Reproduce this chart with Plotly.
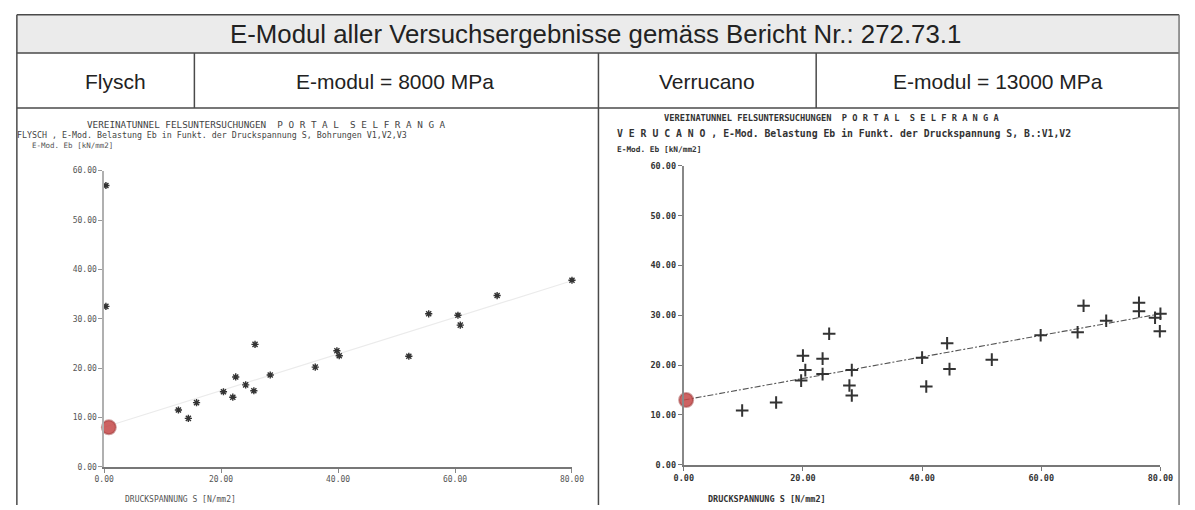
import plotly.graph_objects as go

W, H = 1195, 510

# ---- data ----
flysch_s = [0.3, 0.3, 12.7, 14.4, 15.8, 20.4, 22.0, 22.5, 24.2, 25.6, 25.8, 28.4, 36.1,
            39.8, 40.2, 52.1, 55.5, 60.5, 60.9, 67.2, 80.0]
flysch_e = [57.0, 32.5, 11.5, 9.8, 13.0, 15.2, 14.1, 18.2, 16.6, 15.4, 24.8, 18.6, 20.2,
            23.5, 22.5, 22.4, 31.0, 30.7, 28.7, 34.7, 37.8]

verrucano_s = [9.8, 15.5, 20.0, 20.4, 19.7, 23.3, 23.3, 24.4, 27.8, 28.2, 28.2, 40.0, 40.7,
               44.2, 44.6, 51.7, 59.9, 66.1, 67.1, 70.9, 76.4, 76.4, 79.1, 80.0, 79.9]
verrucano_e = [10.9, 12.5, 21.9, 19.0, 16.9, 21.3, 18.2, 26.3, 15.9, 19.0, 13.9, 21.5, 15.7,
               24.4, 19.2, 21.1, 26.0, 26.6, 31.9, 28.9, 32.5, 30.8, 29.5, 30.3, 26.8]

fit_s = [0, 80]
flysch_fit_e = [8.0, 37.7]
verrucano_fit_e = [13.0, 30.3]

flysch_e0_s, flysch_e0 = [0.8], [8.0]
verrucano_e0_s, verrucano_e0 = [0.4], [13.0]

x_ticks = [0, 20, 40, 60, 80]
y_ticks = [0, 10, 20, 30, 40, 50, 60]

title = "E-Modul aller Versuchsergebnisse gemäss Bericht Nr.: 272.73.1"
row_texts = ["Flysch", "E-modul = 8000 MPa", "Verrucano", "E-modul = 13000 MPa"]
plot_title1 = "VEREINATUNNEL FELSUNTERSUCHUNGEN  P O R T A L  S E L F R A N G A"
flysch_title2 = "FLYSCH , E-Mod. Belastung Eb in Funkt. der Druckspannung S, Bohrungen V1,V2,V3"
verr_title2 = "V E R U C A N O , E-Mod. Belastung Eb in Funkt. der Druckspannung S, B.:V1,V2"
y_title = "E-Mod. Eb [kN/mm2]"
x_title = "DRUCKSPANNUNG S [N/mm2]"

# ---- helpers ----
def px(x):
    return x / W

def py(y):
    return 1 - y / H

fig = go.Figure()

# fit lines
fig.add_trace(go.Scatter(x=fit_s, y=flysch_fit_e, mode="lines", xaxis="x", yaxis="y",
                         line=dict(color="#ebebeb", width=1.2), showlegend=False,
                         hoverinfo="skip"))
fig.add_trace(go.Scatter(x=fit_s, y=verrucano_fit_e, mode="lines", xaxis="x2", yaxis="y2",
                         line=dict(color="#555555", width=1.1, dash="6px,2px,2px,2px"),
                         showlegend=False, hoverinfo="skip"))

# data points
fig.add_trace(go.Scatter(x=flysch_s, y=flysch_e, mode="markers", xaxis="x", yaxis="y",
                         marker=dict(symbol="asterisk-open", size=6, color="#333333",
                                     line=dict(color="#333333", width=1.4)),
                         showlegend=False, cliponaxis=False))
fig.add_trace(go.Scatter(x=verrucano_s, y=verrucano_e, mode="markers", xaxis="x2", yaxis="y2",
                         marker=dict(symbol="cross-thin-open", size=9, color="#333333",
                                     line=dict(color="#333333", width=2)),
                         showlegend=False, cliponaxis=False))

# red intercept markers
red = dict(size=14, color="rgba(196,70,70,0.85)", line=dict(color="rgba(160,60,60,0.5)", width=2))
fig.add_trace(go.Scatter(x=flysch_e0_s, y=flysch_e0, mode="markers", xaxis="x", yaxis="y",
                         marker=red, showlegend=False, cliponaxis=False))
fig.add_trace(go.Scatter(x=verrucano_e0_s, y=verrucano_e0, mode="markers", xaxis="x2", yaxis="y2",
                         marker=red, showlegend=False, cliponaxis=False))

axis_common = dict(showgrid=False, zeroline=False, showline=True, ticks="outside",
                   ticklen=4, tickformat=".2f", fixedrange=True)

left_font = dict(family="DejaVu Sans Mono", size=8, color="#555555")
right_font = dict(family="DejaVu Sans Mono", size=8.5, color="#333333", weight="bold")

fig.update_layout(
    width=W, height=H, margin=dict(l=0, r=0, t=0, b=0),
    paper_bgcolor="white", plot_bgcolor="white",
    xaxis=dict(axis_common, domain=[px(96), px(573)], range=[0, 80], tickvals=x_ticks,
               linecolor="#777777", linewidth=1.5, tickcolor="#888888",
               tickfont=left_font, anchor="y"),
    yaxis=dict(axis_common, domain=[py(471), py(169)], range=[0, 60], tickvals=y_ticks,
               linecolor="#b0b0b0", linewidth=1.5, tickcolor="#999999",
               tickfont=left_font, anchor="x"),
    xaxis2=dict(axis_common, domain=[px(687), px(1173)], range=[0, 80], tickvals=x_ticks,
                linecolor="#777777", linewidth=2, tickcolor="#777777",
                tickfont=right_font, anchor="y2"),
    yaxis2=dict(axis_common, domain=[py(469), py(164)], range=[0, 60], tickvals=y_ticks,
                linecolor="#888888", linewidth=2, tickcolor="#777777",
                tickfont=right_font, anchor="x2"),
)

# ---- table frame ----
line_col = "#4a4a4a"
shapes = [
    dict(type="rect", xref="paper", yref="paper", x0=px(7), x1=px(1192), y0=py(49), y1=py(10),
         fillcolor="#ebebeb", line=dict(width=0), layer="below"),
]
def hline(y, x0, x1, w=1.5, c=line_col):
    shapes.append(dict(type="line", xref="paper", yref="paper", x0=px(x0), x1=px(x1),
                       y0=py(y), y1=py(y), line=dict(color=c, width=w)))
def vline(x, y0, y1, w=1.5, c=line_col):
    shapes.append(dict(type="line", xref="paper", yref="paper", x0=px(x), x1=px(x),
                       y0=py(y0), y1=py(y1), line=dict(color=c, width=w)))

hline(10, 7, 1192)
hline(49, 7, 1192)
hline(105, 7, 1192)
vline(7, 10, 510)
vline(1192, 10, 510, c="#777777")
vline(600, 49, 510)
vline(188, 49, 105)
vline(822, 49, 105)
fig.update_layout(shapes=shapes)

# ---- texts ----
ann = []
def text(x, y, s, size, family="Liberation Sans", color="#222222", xanchor="center", weight="normal"):
    ann.append(dict(x=px(x), y=py(y), xref="paper", yref="paper", text=s, showarrow=False,
                    xanchor=xanchor, yanchor="middle",
                    font=dict(family=family, size=size, color=color, weight=weight)))

text(597, 30, title, 25.8)
text(108, 78, row_texts[0], 21)
text(393, 78, row_texts[1], 21)
text(711, 78, row_texts[2], 21)
text(1007, 78, row_texts[3], 21)

mono = "DejaVu Sans Mono"
text(76, 122, plot_title1, 9.3, mono, "#444444", "left")
text(5, 133, flysch_title2, 8.3, mono, "#444444", "left")
text(20, 143, y_title, 7.5, mono, "#555555", "left")
text(115, 504, x_title, 8, mono, "#555555", "left")

text(665, 115, plot_title1, 8.7, mono, "#333333", "left", "bold")
text(617, 131, verr_title2, 9.8, mono, "#333333", "left", "bold")
text(617, 147, y_title, 7.8, mono, "#333333", "left", "bold")
text(710, 504, x_title, 8.5, mono, "#333333", "left", "bold")

fig.update_layout(annotations=ann)

fig.write_html(
    "out.html",
    config={"displayModeBar": False},
    post_script="document.body.style.margin='0';document.body.style.overflow='hidden';"
                "document.documentElement.style.overflow='hidden';",
)
